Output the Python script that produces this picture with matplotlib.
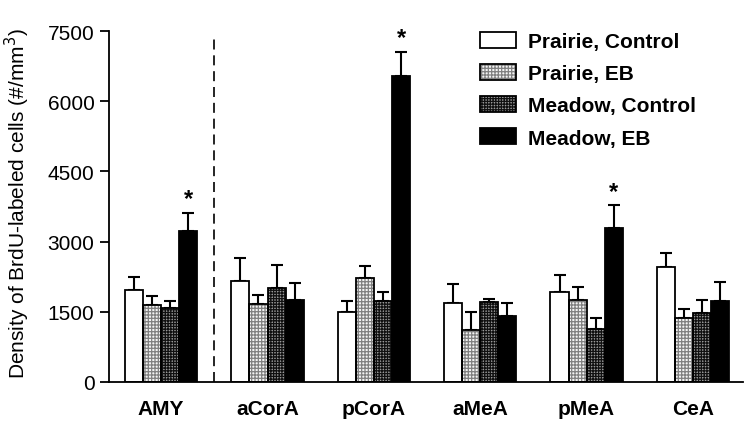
import matplotlib
matplotlib.use("Agg")
import matplotlib.pyplot as plt
from matplotlib.patches import Patch
import numpy as np

plt.rcParams['font.family'] = ['Liberation Sans', 'DejaVu Sans']
plt.rcParams['hatch.linewidth'] = 0.9

regions = ["AMY", "aCorA", "pCorA", "aMeA", "pMeA", "CeA"]
series = ["Prairie, Control", "Prairie, EB", "Meadow, Control", "Meadow, EB"]

prairie_control = [1970, 2165, 1500, 1695, 1915, 2450]
prairie_eb      = [1645, 1665, 2230, 1110, 1750, 1360]
meadow_control  = [1580, 2000, 1725, 1700, 1140, 1475]
meadow_eb       = [3235, 1750, 6540, 1415, 3280, 1725]

prairie_control_sem = [280, 475, 225, 395, 370, 300]
prairie_eb_sem      = [195, 200, 250, 385, 280, 200]
meadow_control_sem  = [145, 500, 195, 80, 220, 280]
meadow_eb_sem       = [385, 360, 520, 275, 495, 420]

significant = [True, False, True, False, True, False]

means = [prairie_control, prairie_eb, meadow_control, meadow_eb]
sems = [prairie_control_sem, prairie_eb_sem, meadow_control_sem, meadow_eb_sem]

# style: (facecolor, hatch, hatchcolor)
styles = [
    ("white", None, None),
    ("#f4f4f4", "+++++", "#808080"),
    ("#9a9a9a", "++++++", "#101010"),
    ("black", None, None),
]

fig = plt.figure(figsize=(7.5, 4.27), dpi=100)
ax = fig.add_axes([109/750, 1 - 383/427, (743 - 109)/750, (383 - 32)/427])

x = np.arange(len(regions))
w = 0.17
offsets = (np.arange(4) - 1.5) * w

handles = []
for i in range(4):
    fc, hatch, hc = styles[i]
    xs = x + offsets[i]
    ax.bar(xs, means[i], width=w, color=fc, edgecolor=hc if hc else "black",
           hatch=hatch, linewidth=0, zorder=2)
    ax.bar(xs, means[i], width=w, facecolor="none", edgecolor="black",
           linewidth=1.3, zorder=3)
    ax.errorbar(xs, means[i], yerr=[np.zeros(len(regions)), sems[i]], fmt="none",
                ecolor="black", elinewidth=1.5, capsize=4.5, capthick=1.5, zorder=1)
    h1 = Patch(facecolor=fc, edgecolor=hc if hc else "black", hatch=hatch, linewidth=0)
    h2 = Patch(facecolor="none", edgecolor="black", linewidth=1.3)
    handles.append((h1, h2))

for j, sig in enumerate(significant):
    if sig:
        top = meadow_eb[j] + meadow_eb_sem[j]
        ax.annotate("*", xy=(x[j] + offsets[3], top), xytext=(0, 1.5),
                    textcoords="offset points", ha="center", va="bottom",
                    fontsize=17, fontweight="bold")

ax.axvline(0.5, ymin=0, ymax=0.985, color="black", linewidth=1.2,
           linestyle=(0, (6, 3.5)))

ax.set_xlim(-0.49, 5.47)
ax.set_ylim(0, 7500)
ax.set_yticks([0, 1500, 3000, 4500, 6000, 7500])
ax.set_xticks(x)
ax.set_xticklabels(regions, fontsize=15, fontweight="bold")
ax.tick_params(axis="x", length=0, pad=12)
ax.tick_params(axis="y", length=6.5, width=1.3, labelsize=15, pad=4, direction="out")
for s in ["top", "right"]:
    ax.spines[s].set_visible(False)
for s in ["left", "bottom"]:
    ax.spines[s].set_linewidth(1.3)

ax.set_ylabel("Density of BrdU-labeled cells (#/mm$^3$)", fontsize=15)
ax.yaxis.set_label_coords(-0.122, 0.512)

fig.legend(handles, series, loc="upper left", bbox_to_anchor=(480/750, 1 - 33/427),
           frameon=False, borderpad=0, borderaxespad=0, handlelength=1.75,
           handleheight=0.8, handletextpad=0.55, labelspacing=0.62,
           prop={"size": 15, "weight": "bold"})

fig.savefig("out.png", dpi=100)
